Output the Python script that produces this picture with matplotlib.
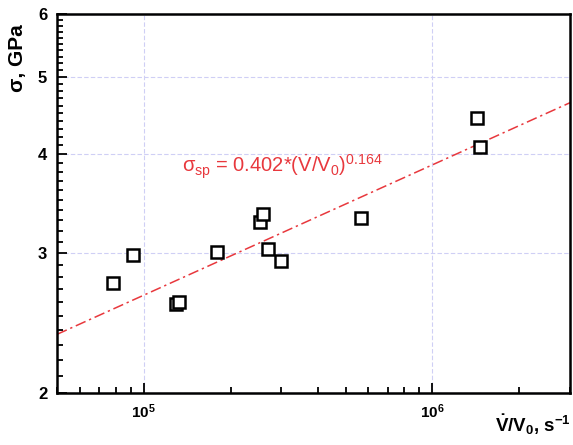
import numpy as np
import matplotlib
matplotlib.use("Agg")
import matplotlib.pyplot as plt
from matplotlib.ticker import FixedLocator, NullFormatter, FuncFormatter

plt.rcParams['font.family'] = ['Liberation Sans', 'DejaVu Sans']
plt.rcParams['mathtext.fontset'] = 'custom'
plt.rcParams['mathtext.rm'] = 'Liberation Sans'
plt.rcParams['mathtext.it'] = 'Liberation Sans'
plt.rcParams['mathtext.bf'] = 'Liberation Sans:bold'
plt.rcParams['mathtext.default'] = 'it'

# data
strain_rate = [7.8e4, 9.2e4, 1.29e5, 1.32e5, 1.79e5, 2.52e5, 2.58e5, 2.69e5,
               2.98e5, 5.68e5, 1.43e6, 1.46e6]
stress = [2.75, 2.98, 2.59, 2.60, 3.01, 3.28, 3.36, 3.04, 2.93, 3.32, 4.44, 4.08]
fit_coef = 0.402
fit_exp = 0.164
x_range = [5e4, 3e6]
y_range = [2, 6]
y_major = [2, 3, 4, 5, 6]
x_major = [1e5, 1e6]

fig = plt.figure(figsize=(5.73, 4.45), dpi=100)
ax = fig.add_axes([57/573, 1-393/445, (570-57)/573, (393-14)/445])
ax.set_xscale('log')
ax.set_yscale('log')
ax.set_xlim(*x_range)
ax.set_ylim(*y_range)

xf = np.logspace(np.log10(x_range[0]), np.log10(x_range[1]), 200)
ax.plot(xf, fit_coef * xf ** fit_exp, color='#e8383d', lw=1.1,
        linestyle=(0, (7, 2.5, 1.5, 2.5)), zorder=2)
ax.plot(strain_rate, stress, 's', ms=8, mfc='white', mec='black', mew=1.8,
        linestyle='none', zorder=3)

# ticks
ax.yaxis.set_major_locator(FixedLocator(y_major))
ax.yaxis.set_minor_locator(FixedLocator(
    [v for v in np.arange(2.0, 6.0, 0.1) if abs(v - round(v)) > 1e-6]))
ax.yaxis.set_major_formatter(FuncFormatter(lambda v, p: f"{int(round(v))}"))
ax.yaxis.set_minor_formatter(NullFormatter())

ax.xaxis.set_major_locator(FixedLocator(x_major))
minors = [m * 10 ** e for e in (4, 5, 6) for m in range(2, 10)]
ax.xaxis.set_minor_locator(FixedLocator([v for v in minors if x_range[0] <= v <= x_range[1]]))
ax.xaxis.set_major_formatter(FuncFormatter(
    lambda v, p: r'$\mathbf{10^{%d}}$' % int(round(np.log10(v)))))
ax.xaxis.set_minor_formatter(NullFormatter())

ax.tick_params(which='both', direction='in', top=False, right=False, width=1.3)
ax.tick_params(which='major', length=7, labelsize=11, pad=7)
ax.tick_params(which='minor', length=4)
for lab in ax.get_yticklabels():
    lab.set_fontweight('bold')
    lab.set_fontsize(12)

ax.grid(True, which='major', linestyle=(0, (4, 2)), color='#cfcff5', lw=0.8)
for s in ax.spines.values():
    s.set_linewidth(1.8)

ax.text(0.244, 0.58, r'$\sigma_{sp}$ = 0.402*($\dot{V}$/V$_0$)$^{0.164}$',
        transform=ax.transAxes, color='#e8383d', fontsize=14.5)

fig.text(17/573, 1-58/445, r'σ, GPa', rotation=90, fontsize=15,
         fontweight='bold', ha='center', va='center')
fig.text(533/573, 1-425/445, r'$\mathbf{\dot{V}/V_0}$, s$^{\mathbf{-1}}$',
         fontsize=13.5, fontweight='bold', ha='center', va='center')

fig.savefig('out.png', dpi=100)
